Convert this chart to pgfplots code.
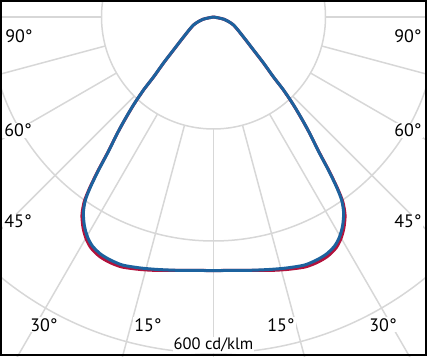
\documentclass[border=0pt]{standalone}
\usepackage{fontspec}
\setmainfont{PT Sans}
\usepackage{pgfplots}
\pgfplotsset{compat=1.18}
\usepackage{pgfplotstable}
\definecolor{curveblue}{RGB}{28,98,158}
\definecolor{curvered}{RGB}{178,18,60}
\definecolor{gridgray}{RGB}{215,215,215}

% t = angle from nadir (deg, negative = left), b = blue (cd/klm), r = red (cd/klm)
\pgfplotstableread{
t b r
-90 0 0
-77.6 19.2 19.2
-68.2 38.5 38.3
-56.3 64.4 64.0
-50.5 92.6 92.0
-47.4 121.3 120.6
-45.0 151.5 150.8
-43.8 180.6 179.9
-42.3 212.4 211.6
-40.8 243.1 242.4
-39.6 268.9 269.0
-37.9 307.9 309.3
-36.9 341.8 344.0
-35.9 374.7 377.4
-35.0 398.8 402.4
-33.6 420.0 424.5
-31.7 438.6 443.1
-29.8 452.7 457.2
-27.9 462.5 467.0
-25.5 468.9 473.4
-23.0 471.3 475.8
-20.1 471.8 475.4
-16.2 466.8 469.5
-12.5 461.8 463.6
-8.5 457.3 457.5
-4.1 453.8 453.8
0 452.7 452.7
4.1 453.8 453.8
8.5 457.3 457.5
12.5 461.8 463.6
16.2 466.8 469.5
20.1 471.8 475.4
23.0 471.3 475.8
25.5 468.9 473.4
27.9 462.5 467.0
29.8 452.7 457.2
31.7 438.6 443.1
33.6 420.0 424.5
35.0 398.8 402.4
35.9 374.7 377.4
36.9 341.8 344.0
37.9 307.9 309.3
39.6 268.9 269.0
40.8 243.1 242.4
42.3 212.4 211.6
43.8 180.6 179.9
45.0 151.5 150.8
47.4 121.3 120.6
50.5 92.6 92.0
56.3 64.4 64.0
68.2 38.5 38.3
77.6 19.2 19.2
90 0 0
}\curvedata

\begin{document}
\begin{tikzpicture}[lbl/.style={fill=white, inner sep=1pt, anchor=base, font=\fontsize{18}{20}\selectfont}]
\begin{axis}[
  x=0.56pt, y=0.56pt,
  xmin=-381.25, xmax=381.25,
  ymin=-605.36, ymax=30.36,
  hide axis,
  clip=true,
]
% grid circles
\draw[gridgray, line width=1.5pt] (axis cs:0,0) circle[radius=200];
\draw[gridgray, line width=1.5pt] (axis cs:0,0) circle[radius=400];
\draw[gridgray, line width=1.5pt] (axis cs:0,0) circle[radius=600];
% radial lines
\pgfplotsinvokeforeach{-90,-75,-60,-45,-30,-15,0,15,30,45,60,75,90}{
  \draw[gridgray, line width=1.5pt]
    (axis cs:{200*cos(270+#1)},{200*sin(270+#1)}) --
    (axis cs:{1200*cos(270+#1)},{1200*sin(270+#1)});
}
% curves
\addplot[curvered, line width=3pt, data cs=polar, smooth, tension=0.45]
  table[x expr={270+\thisrow{t}}, y=r] {\curvedata};
\addplot[curveblue, line width=3pt, data cs=polar, smooth, tension=0.45]
  table[x expr={270+\thisrow{t}}, y=b] {\curvedata};
% labels
\node[lbl] at (rel axis cs:0.0445,0.8820) {90°};
\node[lbl] at (rel axis cs:0.9555,0.8820) {90°};
\node[lbl] at (rel axis cs:0.0422,0.6152) {60°};
\node[lbl] at (rel axis cs:0.9555,0.6152) {60°};
\node[lbl] at (rel axis cs:0.0422,0.3596) {45°};
\node[lbl] at (rel axis cs:0.9555,0.3596) {45°};
\node[lbl] at (rel axis cs:0.1030,0.0702) {30°};
\node[lbl] at (rel axis cs:0.3466,0.0702) {15°};
\node[lbl] at (rel axis cs:0.6581,0.0702) {15°};
\node[lbl] at (rel axis cs:0.8970,0.0702) {30°};
\node[lbl, font=\fontsize{16.5}{18}\selectfont] at (rel axis cs:0.5,0.0169) {600 cd/klm};
% frame
\draw[black, line width=2pt]
  ([shift={(1pt,1pt)}]rel axis cs:0,0) rectangle ([shift={(-1pt,-1pt)}]rel axis cs:1,1);
\end{axis}
\end{tikzpicture}
\end{document}
